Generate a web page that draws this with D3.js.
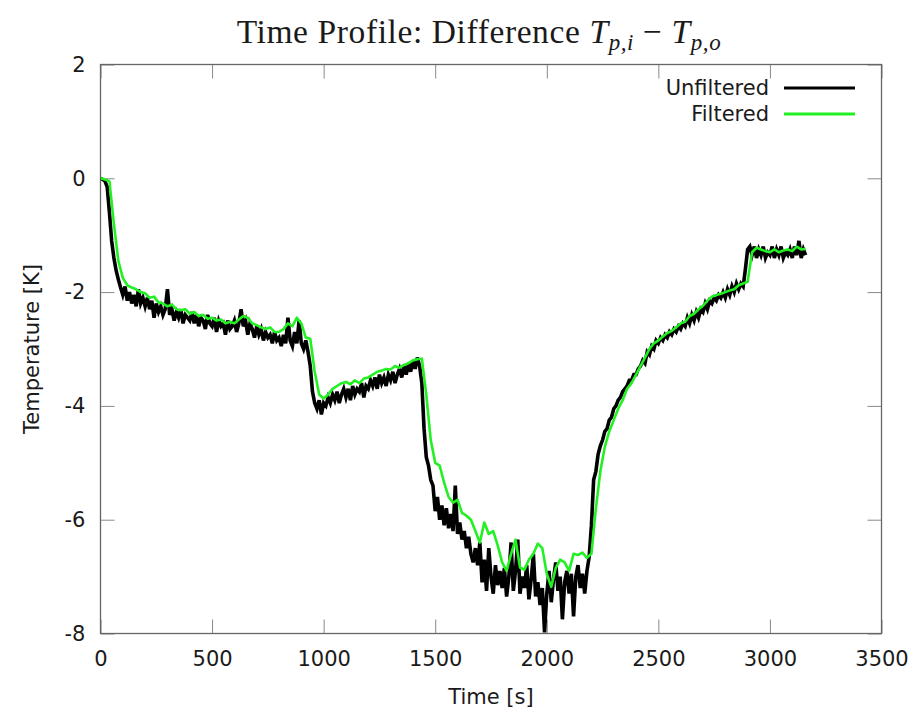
<!DOCTYPE html>
<html>
<head>
<meta charset="utf-8">
<script src="https://cdn.jsdelivr.net/npm/d3@7"></script>
<style>
  body { margin: 0; background: #fff; }
  svg text { font-family: "DejaVu Sans", sans-serif; fill: #1a1a1a; }
</style>
</head>
<body>
<div id="chart"></div>
<script>
// time step of the samples (s)
var rawStep = 10;
var filtStep = 20;

// unfiltered T_pi - T_po, one value every 10 s from t = 0
var unfiltered = [
  0.00, -0.02, -0.05, -0.15, -0.60, -1.10, -1.40, -1.62, -1.78, -1.92,
  -2.05, -1.90, -2.15, -2.00, -2.20, -2.05, -2.25, -1.95, -2.20, -2.10,
  -2.25, -2.10, -2.30, -2.15, -2.45, -2.20, -2.35, -2.25, -2.40, -2.30,
  -1.95, -2.40, -2.30, -2.50, -2.35, -2.45, -2.30, -2.55, -2.40, -2.45,
  -2.50, -2.35, -2.55, -2.40, -2.60, -2.45, -2.50, -2.65, -2.40, -2.55,
  -2.60, -2.45, -2.70, -2.50, -2.60, -2.55, -2.75, -2.50, -2.65, -2.60,
  -2.50, -2.70, -2.55, -2.30, -2.60, -2.50, -2.75, -2.55, -2.65, -2.80,
  -2.60, -2.75, -2.65, -2.85, -2.70, -2.80, -2.75, -2.90, -2.70, -2.85,
  -2.80, -2.95, -2.75, -2.90, -2.45, -2.85, -2.95, -2.70, -2.90, -2.50,
  -2.90, -3.00, -2.85, -3.05, -3.30, -3.75, -3.95, -4.05, -3.90, -4.15,
  -3.95, -4.00, -3.85, -3.95, -3.80, -3.90, -3.75, -3.95, -3.80, -3.70,
  -3.85, -3.70, -3.90, -3.65, -3.80, -3.70, -3.75, -3.60, -3.85, -3.65,
  -3.70, -3.55, -3.65, -3.50, -3.70, -3.45, -3.60, -3.50, -3.65, -3.45,
  -3.55, -3.40, -3.60, -3.45, -3.35, -3.50, -3.30, -3.45, -3.25, -3.40,
  -3.20, -3.35, -3.15, -3.30, -3.60, -4.40, -4.90, -5.05, -5.30, -5.40,
  -5.85, -5.60, -6.00, -5.75, -6.10, -5.80, -6.15, -5.90, -6.20, -5.40,
  -6.25, -6.05, -6.35, -6.20, -6.50, -6.30, -6.60, -6.75, -6.50, -6.80,
  -6.40, -7.10, -6.70, -7.25, -6.50, -7.00, -7.30, -6.80, -7.15, -6.90,
  -7.20, -6.85, -7.35, -7.00, -6.40, -7.25, -6.90, -6.35, -7.30, -7.00,
  -7.20, -6.80, -7.40, -7.05, -6.60, -7.35, -7.10, -7.50, -7.20, -7.98,
  -7.30, -6.90, -7.45, -7.05, -6.75, -7.25, -7.00, -7.75, -7.10, -6.90,
  -7.30, -6.95, -7.70, -7.00, -6.80, -7.20, -6.95, -7.30, -6.90, -6.65,
  -6.10, -5.30, -5.15, -4.85, -4.70, -4.60, -4.45, -4.40, -4.25, -4.20,
  -4.05, -4.00, -3.90, -3.85, -3.75, -3.70, -3.65, -3.55, -3.55, -3.45,
  -3.45, -3.35, -3.30, -3.20, -3.25, -3.05, -3.10, -2.95, -3.00, -2.85,
  -2.90, -2.80, -2.85, -2.75, -2.80, -2.70, -2.75, -2.65, -2.70, -2.60,
  -2.65, -2.55, -2.60, -2.45, -2.55, -2.40, -2.50, -2.35, -2.45, -2.30,
  -2.35, -2.20, -2.30, -2.15, -2.20, -2.10, -2.15, -2.05, -2.10, -2.00,
  -2.10, -1.95, -2.05, -1.90, -2.00, -1.85, -1.95, -1.85, -1.90, -1.60,
  -1.25, -1.20, -1.35, -1.20, -1.40, -1.25, -1.35, -1.20, -1.40, -1.30,
  -1.35, -1.20, -1.40, -1.25, -1.35, -1.20, -1.40, -1.30, -1.35, -1.25,
  -1.40, -1.20, -1.35, -1.10, -1.40, -1.25, -1.35
];

// filtered signal, one value every 20 s from t = 0
var filtered = [
  0.00, -0.02, -0.05, -0.80, -1.45, -1.75, -1.88, -1.92, -1.95, -2.00,
  -2.02, -2.10, -2.08, -2.18, -2.20, -2.25, -2.22, -2.30, -2.32, -2.30,
  -2.38, -2.35, -2.42, -2.40, -2.47, -2.45, -2.50, -2.48, -2.55, -2.52,
  -2.55, -2.48, -2.42, -2.45, -2.55, -2.58, -2.62, -2.65, -2.62, -2.70,
  -2.70, -2.65, -2.55, -2.60, -2.45, -2.55, -2.80, -2.82, -3.40, -3.80,
  -3.87, -3.80, -3.70, -3.65, -3.60, -3.58, -3.62, -3.55, -3.60, -3.52,
  -3.50, -3.45, -3.40, -3.38, -3.35, -3.36, -3.30, -3.33, -3.28, -3.25,
  -3.20, -3.18, -3.17, -3.80, -4.60, -5.00, -5.05, -5.35, -5.60, -5.70,
  -5.65, -5.88, -5.93, -6.00, -6.20, -6.40, -6.05, -6.25, -6.20, -6.45,
  -6.75, -6.90, -6.60, -6.35, -6.84, -6.88, -6.70, -6.60, -6.42, -6.50,
  -6.95, -7.18, -6.85, -6.70, -6.75, -6.90, -6.60, -6.62, -6.58, -6.67,
  -6.60, -5.80, -5.15, -4.72, -4.45, -4.25, -4.05, -3.90, -3.70, -3.60,
  -3.45, -3.30, -3.15, -3.00, -2.90, -2.85, -2.78, -2.72, -2.68, -2.62,
  -2.55, -2.52, -2.42, -2.38, -2.30, -2.24, -2.15, -2.08, -2.05, -2.03,
  -2.00, -1.97, -1.95, -1.88, -1.85, -1.82, -1.30, -1.22, -1.25, -1.28,
  -1.30, -1.25, -1.30, -1.27, -1.25, -1.28, -1.20, -1.25, -1.24
];

var xTicks = [0, 500, 1000, 1500, 2000, 2500, 3000, 3500];
var yTicks = [-8, -6, -4, -2, 0, 2];

var width = 924, height = 711;
var plotL = 100.5, plotR = 881.5, plotT = 64.5, plotB = 633.5;

var svg = d3.select("#chart").append("svg")
  .attr("width", width).attr("height", height);

var x = d3.scaleLinear().domain([0, 3500]).range([plotL, plotR]);
var y = d3.scaleLinear().domain([-8, 2]).range([plotB, plotT]);

svg.append("clipPath").attr("id", "plotClip")
  .append("rect")
  .attr("x", plotL).attr("y", plotT - 2)
  .attr("width", plotR - plotL).attr("height", plotB - plotT + 2);

// gnuplot prints a plain hyphen for negatives
var plainFmt = function(d) { return String(d); };

// axes: gnuplot style, ticks pointing inward on all four sides
var tickLen = 14;
function styleAxis(g) {
  g.select(".domain").remove();
  g.selectAll(".tick line").attr("stroke", "#8a8a8a").attr("stroke-width", 1);
  g.selectAll(".tick text").attr("fill", "#1a1a1a").style("font-size", "21px")
    .style("font-family", '"DejaVu Sans", sans-serif');
}

svg.append("g").attr("transform", "translate(0," + plotB + ")")
  .call(d3.axisBottom(x).tickValues(xTicks).tickFormat(plainFmt)
    .tickSize(-tickLen).tickPadding(18))
  .call(styleAxis);

svg.append("g").attr("transform", "translate(0," + plotT + ")")
  .call(d3.axisTop(x).tickValues(xTicks).tickFormat("").tickSize(-tickLen))
  .call(styleAxis);

svg.append("g").attr("transform", "translate(" + plotL + ",0)")
  .call(d3.axisLeft(y).tickValues(yTicks).tickFormat(plainFmt)
    .tickSize(-tickLen).tickPadding(15))
  .call(styleAxis);

svg.append("g").attr("transform", "translate(" + plotR + ",0)")
  .call(d3.axisRight(y).tickValues(yTicks).tickFormat("").tickSize(-tickLen))
  .call(styleAxis);

// frame
svg.append("rect")
  .attr("x", plotL).attr("y", plotT)
  .attr("width", plotR - plotL).attr("height", plotB - plotT)
  .attr("fill", "none").attr("stroke", "#666").attr("stroke-width", 1.3);

// series
var rawLine = d3.line()
  .x(function(d, i) { return x(i * rawStep); })
  .y(function(d) { return y(d); });

var filtLine = d3.line()
  .x(function(d, i) { return x(i * filtStep); })
  .y(function(d) { return y(d); });

var plot = svg.append("g").attr("clip-path", "url(#plotClip)");

plot.append("path").datum(unfiltered)
  .attr("d", rawLine)
  .attr("fill", "none").attr("stroke", "#000")
  .attr("stroke-width", 3.6).attr("stroke-linejoin", "miter");

plot.append("path").datum(filtered)
  .attr("d", filtLine)
  .attr("fill", "none").attr("stroke", "#22f022")
  .attr("stroke-width", 2.6).attr("stroke-linejoin", "round");

// legend
var legend = [
  {name: "Unfiltered", color: "#000", y: 88},
  {name: "Filtered", color: "#22f022", y: 114}
];
legend.forEach(function(item) {
  svg.append("text")
    .attr("x", 769).attr("y", item.y + 7)
    .attr("text-anchor", "end")
    .style("font-size", "21px")
    .text(item.name);
  svg.append("line")
    .attr("x1", 784).attr("x2", 855)
    .attr("y1", item.y).attr("y2", item.y)
    .attr("stroke", item.color).attr("stroke-width", 3);
});

// axis titles
svg.append("text")
  .attr("x", (plotL + plotR) / 2).attr("y", 704)
  .attr("text-anchor", "middle")
  .style("font-size", "21px")
  .text("Time [s]");

svg.append("text")
  .attr("transform", "translate(39," + (plotT + plotB) / 2 + ") rotate(-90)")
  .attr("text-anchor", "middle")
  .style("font-size", "21px")
  .text("Temperature [K]");

// title with math
var title = svg.append("text")
  .attr("x", 479).attr("y", 43)
  .attr("text-anchor", "middle")
  .style("font-family", '"Liberation Serif", "DejaVu Serif", serif')
  .style("font-size", "33.5px")
  .style("letter-spacing", "0.6px");
title.append("tspan").text("Time Profile: Difference ");
title.append("tspan").style("font-style", "italic").text("T");
title.append("tspan").style("font-style", "italic").style("font-size", "23px")
  .attr("dy", 7).text("p,i");
title.append("tspan").attr("dy", -7).text(" \u2212 ");
title.append("tspan").style("font-style", "italic").text("T");
title.append("tspan").style("font-style", "italic").style("font-size", "23px")
  .attr("dy", 7).text("p,o");
</script>
</body>
</html>
